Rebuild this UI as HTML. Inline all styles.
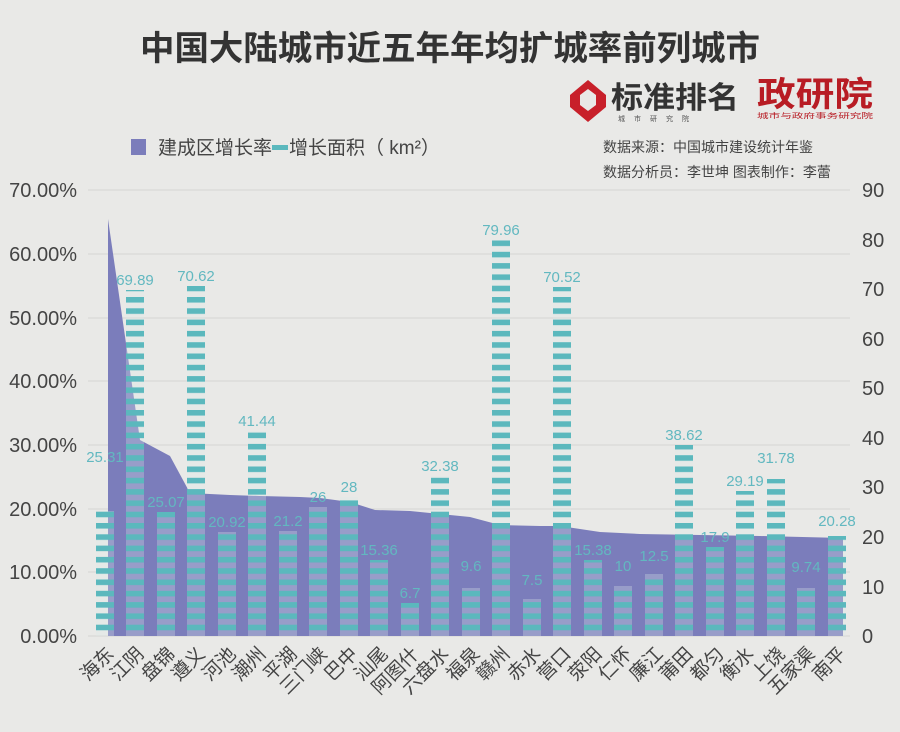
<!DOCTYPE html>
<html><head><meta charset="utf-8"><style>
html,body{margin:0;padding:0;background:#e9e9e7;}
svg{display:block;font-family:"Liberation Sans","Noto Sans CJK SC",sans-serif;}
</style></head><body>
<svg width="900" height="732" viewBox="0 0 900 732" xmlns="http://www.w3.org/2000/svg">
<defs>
<pattern id="st" x="0" y="636" width="40" height="11.3" patternUnits="userSpaceOnUse">
<rect x="0" y="0" width="40" height="5.6" fill="#5bb8bd"/>
<rect x="0" y="5.6" width="40" height="5.7" fill="#dbeaea" fill-opacity="0.3"/>
</pattern>
</defs>
<rect width="900" height="732" fill="#e9e9e7"/>
<text x="450" y="60" text-anchor="middle" font-size="34" font-weight="bold" fill="#333" textLength="620" lengthAdjust="spacingAndGlyphs">中国大陆城市近五年年均扩城率前列城市</text>
<!-- logos -->
<path d="M570 95 L588 80 L606 95 L606 107 L588 122 L570 107 Z" fill="#c8202a"/>
<path d="M580 95 L588 89 L596 95 L596 105 L588 111 L580 105 Z" fill="#e9e9e7"/>
<text x="611" y="108" font-size="30" font-weight="bold" fill="#333" textLength="128" lengthAdjust="spacingAndGlyphs">标准排名</text>
<text x="618" y="121" font-size="7" fill="#555" letter-spacing="9">城市研究院</text>
<text x="757" y="106" font-size="34" font-weight="bold" fill="#b81c24" textLength="116" lengthAdjust="spacingAndGlyphs">政研院</text>
<text x="757" y="118" font-size="7" fill="#b81c24" textLength="116" lengthAdjust="spacingAndGlyphs">城市与政府事务研究院</text>
<!-- legend -->
<rect x="131" y="139" width="15" height="16" fill="#7b7dbb"/>
<text x="158" y="154" font-size="19" fill="#444">建成区增长率</text>
<rect x="272" y="145" width="16" height="5" fill="#5bb8bd"/>
<text x="289" y="154" font-size="19" fill="#444">增长面积（ km²）</text>
<text x="603" y="152" font-size="14" fill="#444">数据来源：中国城市建设统计年鉴</text>
<text x="603" y="177" font-size="14" fill="#444">数据分析员：李世坤 图表制作：李蕾</text>
<!-- grid -->
<g stroke="#d5d5d3" stroke-width="1">
<line x1="88" y1="190" x2="850" y2="190"/><line x1="88" y1="254" x2="850" y2="254"/>
<line x1="88" y1="318" x2="850" y2="318"/><line x1="88" y1="381" x2="850" y2="381"/>
<line x1="88" y1="445" x2="850" y2="445"/><line x1="88" y1="509" x2="850" y2="509"/>
<line x1="88" y1="572" x2="850" y2="572"/><line x1="88" y1="636" x2="850" y2="636"/>
</g>
<g font-size="20" fill="#444" text-anchor="end">
<text x="77" y="197">70.00%</text><text x="77" y="261">60.00%</text><text x="77" y="325">50.00%</text>
<text x="77" y="388">40.00%</text><text x="77" y="452">30.00%</text><text x="77" y="516">20.00%</text>
<text x="77" y="579">10.00%</text><text x="77" y="643">0.00%</text>
</g>
<g font-size="20" fill="#444" text-anchor="start">
<text x="862" y="197">90</text><text x="862" y="247">80</text><text x="862" y="296">70</text>
<text x="862" y="346">60</text><text x="862" y="395">50</text><text x="862" y="445">40</text>
<text x="862" y="494">30</text><text x="862" y="544">20</text><text x="862" y="594">10</text>
<text x="862" y="643">0</text>
</g>
<!-- area -->
<path d="M108 636 L108 219 L140 440 L170 456 L190 493 L230 495 L260 496 L300 497 L320 498 L350 502 L375 510 L410 511 L440 514 L470 517 L500 525 L540 526 L560 526 L600 532 L640 534 L700 535 L760 536 L843 538 L843 636 Z" fill="#7b7dbb"/>
<!-- bars -->
<g fill="url(#st)">
<rect x="96" y="511" width="18" height="125"/>
<rect x="126" y="290" width="18" height="346"/>
<rect x="157" y="512" width="18" height="124"/>
<rect x="187" y="286" width="18" height="350"/>
<rect x="218" y="532" width="18" height="104"/>
<rect x="248" y="431" width="18" height="205"/>
<rect x="279" y="531" width="18" height="105"/>
<rect x="309" y="507" width="18" height="129"/>
<rect x="340" y="497" width="18" height="139"/>
<rect x="370" y="560" width="18" height="76"/>
<rect x="401" y="603" width="18" height="33"/>
<rect x="431" y="476" width="18" height="160"/>
<rect x="462" y="588" width="18" height="48"/>
<rect x="492" y="240" width="18" height="396"/>
<rect x="523" y="599" width="18" height="37"/>
<rect x="553" y="287" width="18" height="349"/>
<rect x="584" y="560" width="18" height="76"/>
<rect x="614" y="586" width="18" height="50"/>
<rect x="645" y="574" width="18" height="62"/>
<rect x="675" y="445" width="18" height="191"/>
<rect x="706" y="547" width="18" height="89"/>
<rect x="736" y="491" width="18" height="145"/>
<rect x="767" y="479" width="18" height="157"/>
<rect x="797" y="588" width="18" height="48"/>
<rect x="828" y="536" width="18" height="100"/>
</g>
<!-- value labels -->
<g font-size="15" fill="#62b8c0" text-anchor="middle">
<text x="105" y="462">25.31</text><text x="135" y="285">69.89</text><text x="166" y="507">25.07</text>
<text x="196" y="281">70.62</text><text x="227" y="527">20.92</text><text x="257" y="426">41.44</text>
<text x="288" y="526">21.2</text><text x="318" y="502">26</text><text x="349" y="492">28</text>
<text x="379" y="555">15.36</text><text x="410" y="598">6.7</text><text x="440" y="471">32.38</text>
<text x="471" y="571">9.6</text><text x="501" y="235">79.96</text><text x="532" y="585">7.5</text>
<text x="562" y="282">70.52</text><text x="593" y="555">15.38</text><text x="623" y="571">10</text>
<text x="654" y="561">12.5</text><text x="684" y="440">38.62</text><text x="715" y="542">17.9</text>
<text x="745" y="486">29.19</text><text x="776" y="463">31.78</text><text x="806" y="572">9.74</text>
<text x="837" y="526">20.28</text>
</g>
<!-- x labels -->
<g font-size="19" fill="#444" text-anchor="end">
<text transform="translate(115,655) rotate(-45)">海东</text>
<text transform="translate(145,655) rotate(-45)">江阴</text>
<text transform="translate(176,655) rotate(-45)">盘锦</text>
<text transform="translate(206,655) rotate(-45)">遵义</text>
<text transform="translate(237,655) rotate(-45)">河池</text>
<text transform="translate(267,655) rotate(-45)">潮州</text>
<text transform="translate(298,655) rotate(-45)">平湖</text>
<text transform="translate(328,655) rotate(-45)">三门峡</text>
<text transform="translate(359,655) rotate(-45)">巴中</text>
<text transform="translate(389,655) rotate(-45)">汕尾</text>
<text transform="translate(420,655) rotate(-45)">阿图什</text>
<text transform="translate(450,655) rotate(-45)">六盘水</text>
<text transform="translate(481,655) rotate(-45)">福泉</text>
<text transform="translate(511,655) rotate(-45)">赣州</text>
<text transform="translate(542,655) rotate(-45)">赤水</text>
<text transform="translate(572,655) rotate(-45)">营口</text>
<text transform="translate(603,655) rotate(-45)">荥阳</text>
<text transform="translate(633,655) rotate(-45)">仁怀</text>
<text transform="translate(664,655) rotate(-45)">廉江</text>
<text transform="translate(694,655) rotate(-45)">莆田</text>
<text transform="translate(725,655) rotate(-45)">都匀</text>
<text transform="translate(755,655) rotate(-45)">衡水</text>
<text transform="translate(786,655) rotate(-45)">上饶</text>
<text transform="translate(816,655) rotate(-45)">五家渠</text>
<text transform="translate(847,655) rotate(-45)">南平</text>
</g>
</svg>
</body></html>
